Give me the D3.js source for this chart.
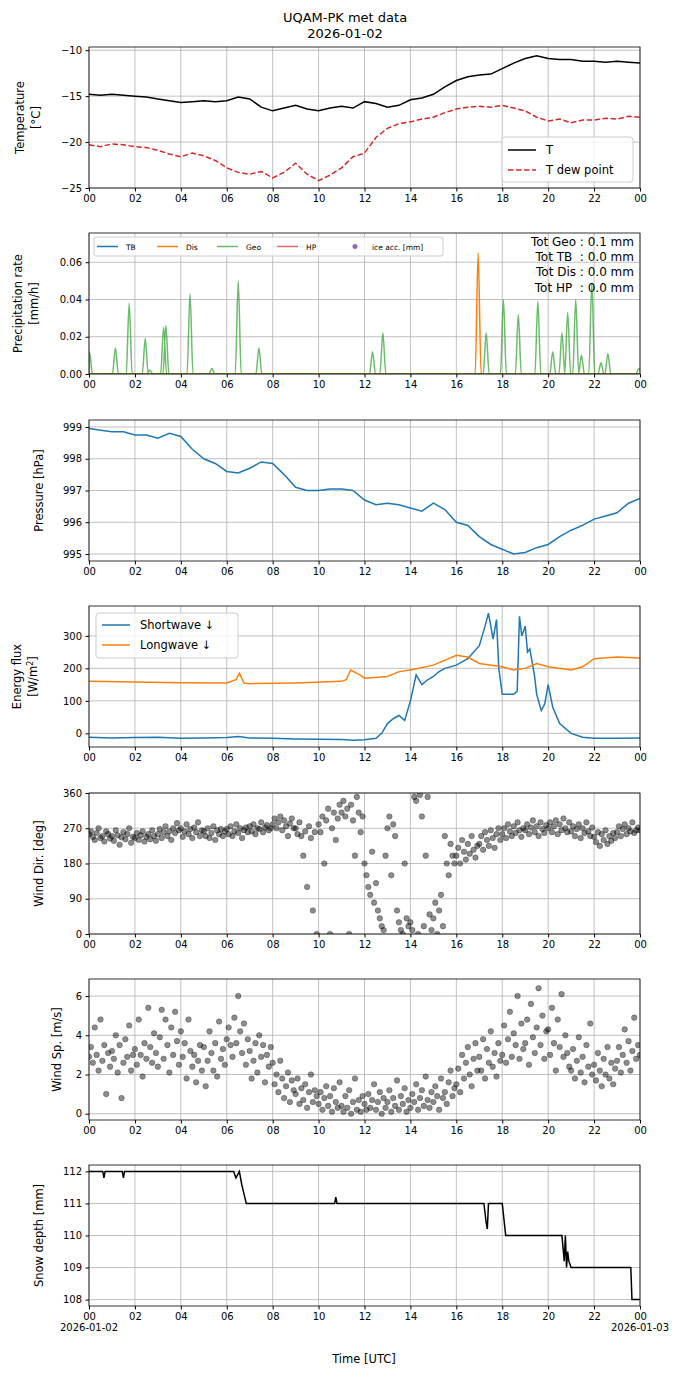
<!DOCTYPE html>
<html><head><meta charset="utf-8">
<script src="https://cdn.jsdelivr.net/npm/d3@7"></script>
<style>body{margin:0;background:#fff}text{font-family:"DejaVu Sans",sans-serif}</style>
</head><body><svg id="c" width="690" height="1377"></svg>
<script>
const tempTimes=d3.range(0,24.01,0.5);
const tempT=[-14.8,-14.9,-14.8,-14.9,-15.0,-15.1,-15.3,-15.5,-15.7,-15.6,-15.5,-15.6,-15.5,-15.1,-15.3,-16.2,-16.6,-16.3,-16.0,-16.4,-16.6,-16.3,-16.1,-16.3,-15.6,-15.8,-16.2,-16.0,-15.4,-15.2,-14.8,-14.0,-13.3,-12.9,-12.7,-12.6,-12.0,-11.4,-10.9,-10.6,-10.9,-11.0,-11.0,-11.2,-11.2,-11.3,-11.2,-11.3,-11.4];
const tempDew=[-20.3,-20.5,-20.2,-20.3,-20.5,-20.6,-20.9,-21.3,-21.6,-21.2,-21.5,-22.0,-22.8,-23.3,-23.5,-23.2,-23.9,-23.3,-22.3,-23.5,-24.2,-23.6,-22.8,-21.6,-21.2,-19.5,-18.5,-18.0,-17.8,-17.5,-17.3,-16.8,-16.4,-16.2,-16.1,-16.2,-16.0,-16.3,-16.6,-17.3,-17.7,-17.5,-17.9,-17.6,-17.6,-17.4,-17.5,-17.2,-17.3];
const geoTimes=[0.02,1.15,1.75,2.45,2.65,3.25,3.35,4.4,5.35,6.5,7.4,12.35,12.8,17.3,18.05,18.7,19.55,20.2,20.6,20.85,21.2,21.45,21.9,22.3,22.6,23.95];
const geoVals=[0.012,0.014,0.038,0.019,0.002,0.025,0.026,0.043,0.003,0.05,0.014,0.012,0.022,0.022,0.04,0.032,0.039,0.012,0.022,0.033,0.040,0.010,0.049,0.006,0.011,0.003];
const disTimes=[16.95];
const disVals=[0.065];
const totTexts=["Tot Geo : 0.1 mm","Tot TB  : 0.0 mm","Tot Dis : 0.0 mm","Tot HP  : 0.0 mm"];
const presTimes=d3.range(0,24.01,0.5);
const pres=[998.95,998.9,998.85,998.85,998.75,998.75,998.65,998.8,998.7,998.3,998.0,997.85,997.6,997.55,997.7,997.9,997.85,997.5,997.1,997.0,997.0,997.05,997.05,997.0,996.7,996.55,996.6,996.55,996.45,996.35,996.6,996.4,996.0,995.9,995.55,995.3,995.15,995.0,995.05,995.2,995.3,995.55,995.75,995.9,996.1,996.2,996.3,996.6,996.75];
const swTimes=[0,1,2,3,4,5,6,6.5,7,8,9,10,11,11.5,12,12.5,12.75,13,13.25,13.5,13.75,14,14.25,14.5,14.75,15,15.25,15.5,16,16.5,17,17.25,17.4,17.6,17.75,17.85,18,18.5,18.65,18.75,18.85,19,19.1,19.2,19.4,19.5,19.7,19.85,20,20.2,20.5,21,21.5,22,23,24];
const swVals=[-12,-14,-13,-12,-15,-14,-13,-10,-14,-15,-17,-18,-19,-21,-20,-15,0,30,45,55,40,100,180,150,165,175,190,200,210,230,270,330,370,290,350,200,120,120,130,360,300,330,250,260,180,120,70,90,150,80,30,0,-12,-15,-15,-14];
const lwTimes=[0,2,4,6,6.4,6.55,6.75,7,9,11,11.2,11.4,11.8,12,13,13.5,14,15,16,16.5,17,18,18.5,19,19.5,20,21,21.5,22,23,24];
const lwVals=[160,158,156,155,165,185,155,153,155,160,165,195,180,170,175,190,195,210,240,235,215,205,195,200,215,205,195,205,230,235,232];
const windDir=[255,262,248,240,258,270,245,250,236,262,255,244,250,238,265,252,228,247,260,242,255,270,233,248,245,258,240,252,262,236,248,255,242,265,250,238,255,268,245,260,275,250,262,240,270,258,283,265,270,248,262,280,255,268,245,272,260,285,250,265,262,250,270,245,258,275,240,265,255,268,250,262,268,255,275,250,262,280,258,270,245,265,272,260,275,262,280,255,270,268,285,260,272,278,265,270,280,295,270,285,300,265,290,275,250,282,295,270,270,255,285,250,200,262,120,275,245,60,260,0,280,260,300,180,290,320,0,270,310,240,295,330,310,340,300,320,0,330,290,200,350,310,260,300,180,150,120,100,210,80,130,60,40,20,10,200,270,300,150,280,250,60,30,10,0,180,40,20,30,10,350,340,0,355,300,20,200,350,50,10,40,80,0,60,100,20,250,180,150,230,200,180,200,220,180,240,210,190,230,205,250,215,195,225,230,250,215,260,240,225,265,245,220,255,270,240,255,270,245,280,262,250,275,258,285,265,248,270,265,280,255,272,290,260,275,250,285,268,258,278,270,285,260,275,290,255,280,265,295,270,260,285,262,275,250,268,280,245,270,258,285,262,250,272,248,235,260,225,255,240,265,230,250,238,258,245,260,275,250,268,280,255,270,262,285,258,265,272,265];
const windSp=[2.9,3.4,2.6,4.4,3.0,2.2,4.8,2.7,3.5,1.0,3.1,2.4,3.2,2.8,4.0,2.1,3.5,0.8,2.6,3.8,2.9,4.5,2.2,3.0,3.3,2.5,4.8,3.0,1.9,3.6,2.8,5.4,3.4,2.6,4.1,3.1,2.4,3.9,5.3,2.8,4.8,3.5,2.1,4.4,3.0,5.2,3.7,2.5,4.2,2.9,3.6,1.8,4.8,3.2,2.4,3.0,1.6,2.7,3.5,2.2,3.4,1.4,2.7,4.2,3.1,2.2,3.6,1.9,4.7,2.8,3.3,2.5,3.8,4.4,3.5,2.9,4.9,3.6,6.0,4.2,3.1,4.6,2.5,3.8,3.2,1.8,2.7,3.6,2.1,4.0,2.9,3.5,1.6,3.0,2.4,3.4,2.6,1.5,2.0,1.1,2.7,1.8,0.8,1.4,2.1,0.6,1.7,1.2,1.0,1.8,0.5,1.3,0.7,1.5,0.3,1.1,2.0,0.6,1.2,0.9,0.5,1.1,0.2,0.8,1.4,0.4,0.9,0.1,1.3,0.6,0.3,1.6,0.4,0.1,0.9,0.3,1.2,0.0,0.6,1.8,0.2,0.7,0.1,0.9,0.5,0.2,1.0,0.3,0.7,1.5,0.2,0.6,1.1,0.0,0.8,0.3,0.6,1.2,0.1,0.8,0.4,1.7,0.2,0.9,0.5,1.3,0.1,0.7,0.3,1.0,0.6,1.5,0.2,0.8,1.2,0.4,1.9,0.7,0.3,1.1,0.6,1.4,0.9,0.2,1.8,0.8,1.1,0.5,1.6,2.2,0.9,1.3,1.5,2.3,1.1,3.0,1.8,2.6,3.4,2.0,1.4,2.8,3.6,2.2,2.9,2.2,3.8,1.8,3.3,2.6,4.2,2.4,3.1,1.9,3.6,2.7,3.0,4.5,2.6,3.8,5.2,2.9,4.1,3.5,6.0,2.8,4.6,3.3,3.6,4.8,2.5,5.6,3.9,3.1,4.4,6.4,3.5,5.0,2.8,4.2,4.3,3.0,5.4,3.6,2.2,4.8,3.4,6.1,2.9,4.0,3.1,2.4,2.2,3.3,1.8,2.7,3.9,2.1,2.9,1.6,3.5,2.4,4.6,2.0,2.5,1.7,3.1,2.2,1.4,2.8,2.0,3.4,1.8,2.6,1.5,2.3,2.7,3.4,2.1,3.0,4.3,2.6,3.7,2.2,3.2,4.9,2.8,3.5,3.0];
const snowTimes=[0,0.6,0.65,0.7,1.45,1.5,1.55,6.3,6.4,6.55,6.65,6.75,6.85,10.7,10.75,10.8,17.2,17.3,17.35,17.4,18,18.15,20.6,20.7,20.75,20.8,20.85,20.9,21,23.6,23.65,24];
const snowVals=[112,112,111.8,112,112,111.8,112,112,111.8,112,111.6,111.3,111,111,111.2,111,111,110.4,110.2,111,111,110,110,109.2,110,109,109.5,109.2,109,109,108,108];
const xTickLabels=["00","02","04","06","08","10","12","14","16","18","20","22","00"];

const svg=d3.select("#c");
const L=89,R=640,H=141;
const x=d3.scaleLinear().domain([0,24]).range([L,R]);
const tops=[47,233,420,606,793,979,1165];
function panel(i,dom,ticks,fmt){
  const t=tops[i];const y=d3.scaleLinear().domain(dom).range([t+H,t]);
  const g=svg.append("g");
  g.selectAll(".gx").data(d3.range(0,25,2)).join("line").attr("x1",d=>x(d)).attr("x2",d=>x(d)).attr("y1",t).attr("y2",t+H).attr("stroke","#b0b0b0").attr("stroke-width",0.8);
  g.selectAll(".gy").data(ticks).join("line").attr("x1",L).attr("x2",R).attr("y1",d=>y(d)).attr("y2",d=>y(d)).attr("stroke","#b0b0b0").attr("stroke-width",0.8);
  const ya=g.append("g").attr("transform",`translate(${L},0)`).call(d3.axisLeft(y).tickValues(ticks).tickFormat(fmt).tickSize(3.5).tickPadding(3.5));
  const xa=g.append("g").attr("transform",`translate(0,${t+H})`).call(d3.axisBottom(x).tickValues(d3.range(0,25,2)).tickFormat((d,j)=>xTickLabels[j]).tickSize(3.5).tickPadding(3.5));
  [ya,xa].forEach(a=>{a.select(".domain").remove();a.selectAll("text").attr("font-size",10).attr("fill","#000").style("font-family","DejaVu Sans");a.selectAll("line").attr("stroke","#000");});
  const cp="cp"+i;
  svg.append("clipPath").attr("id",cp).append("rect").attr("x",L).attr("y",t).attr("width",R-L).attr("height",H);
  const plot=svg.append("g").attr("clip-path",`url(#${cp})`);
  const frame=()=>svg.append("rect").attr("x",L).attr("y",t).attr("width",R-L).attr("height",H).attr("fill","none").attr("stroke","#000").attr("stroke-width",0.8);
  return {y,plot,frame,t};
}
function ylabel(lines,xs,t){
  lines.forEach((s,k)=>svg.append("text").attr("transform",`translate(${xs[k]},${t+H/2}) rotate(-90)`).attr("text-anchor","middle").attr("font-size",11.5).text(s));
}
const line=(xs,ys,y)=>d3.line().x((d,i)=>x(xs[i])).y(d=>y(d))(ys);

svg.append("text").attr("x",345).attr("y",22).attr("text-anchor","middle").attr("font-size",13).text("UQAM-PK met data");
svg.append("text").attr("x",345).attr("y",38).attr("text-anchor","middle").attr("font-size",13).text("2026-01-02");

let p=panel(0,[-25,-9.65],[-25,-20,-15,-10],d=>d3.format("")(d).replace("-","−"));
p.plot.append("path").attr("d",line(tempTimes,tempT,p.y)).attr("fill","none").attr("stroke","#000").attr("stroke-width",1.5);
p.plot.append("path").attr("d",line(tempTimes,tempDew,p.y)).attr("fill","none").attr("stroke","#d62728").attr("stroke-width",1.5).attr("stroke-dasharray","5.5,2.5");
p.frame();ylabel(["Temperature","[°C]"],[24,40],p.t);
{const g=svg.append("g");g.append("rect").attr("x",502).attr("y",137).attr("width",131).attr("height",45).attr("rx",3).attr("fill","#fff").attr("fill-opacity",0.8).attr("stroke","#ccc");
 g.append("line").attr("x1",508).attr("x2",536).attr("y1",150).attr("y2",150).attr("stroke","#000").attr("stroke-width",1.5);
 g.append("line").attr("x1",508).attr("x2",536).attr("y1",170).attr("y2",170).attr("stroke","#d62728").attr("stroke-width",1.5).attr("stroke-dasharray","5.5,2.5");
 g.append("text").attr("x",546).attr("y",154).attr("font-size",11.5).text("T");
 g.append("text").attr("x",546).attr("y",174).attr("font-size",11.5).text("T dew point");}

p=panel(1,[0,0.0757],[0,0.02,0.04,0.06],d3.format(".2f"));
function spikeLine(ts,vs){const pts=[[0,0]];ts.forEach((tt,i)=>{pts.push([Math.max(0,tt-0.13),0],[tt,vs[i]],[tt+0.13,0]);});pts.push([24,0]);return pts;}
const py=p.y;
const sl=d3.line().x(d=>x(d[0])).y(d=>py(d[1])).curve(d3.curveMonotoneX);
p.plot.append("path").attr("d",sl([[0,0],[24,0]])).attr("stroke","#d62728").attr("stroke-width",1.5).attr("opacity",0.7).attr("fill","none");
p.plot.append("path").attr("d",sl([[0,0],[24,0]])).attr("stroke","#1f77b4").attr("stroke-width",1.5).attr("fill","none");
p.plot.append("path").attr("d",sl(spikeLine(disTimes,disVals))).attr("stroke","#ff7f0e").attr("stroke-width",1.5).attr("fill","none");
p.plot.append("path").attr("d",sl(spikeLine(geoTimes,geoVals))).attr("stroke","#2ca02c").attr("stroke-width",1.5).attr("opacity",0.7).attr("fill","none");
p.frame();ylabel(["Precipitation rate","[mm/h]"],[22,38],p.t);
{const g=svg.append("g");g.append("rect").attr("x",94).attr("y",237).attr("width",349).attr("height",19).attr("rx",2).attr("fill","#fff").attr("fill-opacity",0.8).attr("stroke","#ccc");
 const items=[["TB","#1f77b4",1],["Dis","#ff7f0e",1],["Geo","#2ca02c",0.7],["HP","#d62728",0.7]];
 items.forEach((it,k)=>{const x0=97+k*60;g.append("line").attr("x1",x0).attr("x2",x0+21).attr("y1",246.5).attr("y2",246.5).attr("stroke",it[1]).attr("stroke-width",1.5).attr("opacity",it[2]);
  g.append("text").attr("x",x0+29).attr("y",249.5).attr("font-size",7.5).text(it[0]);});
 g.append("circle").attr("cx",355).attr("cy",246.5).attr("r",2.5).attr("fill","#9467bd");
 g.append("text").attr("x",372).attr("y",249.5).attr("font-size",7.5).text("ice acc. [mm]");
 totTexts.forEach((s,k)=>g.append("text").attr("x",634).attr("y",246+k*15.2).attr("text-anchor","end").attr("font-size",12).style("white-space","pre").text(s));}

p=panel(2,[994.78,999.22],[995,996,997,998,999],d3.format("d"));
p.plot.append("path").attr("d",line(presTimes,pres,p.y)).attr("fill","none").attr("stroke","#1f77b4").attr("stroke-width",1.5);
p.frame();ylabel(["Pressure [hPa]"],[43],p.t);

p=panel(3,[-42,392],[0,100,200,300],d3.format("d"));
p.plot.append("path").attr("d",line(swTimes,swVals,p.y)).attr("fill","none").attr("stroke","#1f77b4").attr("stroke-width",1.5);
p.plot.append("path").attr("d",line(lwTimes,lwVals,p.y)).attr("fill","none").attr("stroke","#ff7f0e").attr("stroke-width",1.5);
p.frame();
svg.append("text").attr("transform",`translate(21,${p.t+H/2}) rotate(-90)`).attr("text-anchor","middle").attr("font-size",11.5).text("Energy flux");
svg.append("text").attr("transform",`translate(37,${p.t+H/2}) rotate(-90)`).attr("text-anchor","middle").attr("font-size",11.5).html('[W/m<tspan dy="-4" font-size="8">2</tspan><tspan dy="4">]</tspan>');
{const g=svg.append("g");g.append("rect").attr("x",96).attr("y",613).attr("width",142).attr("height",45).attr("rx",3).attr("fill","#fff").attr("fill-opacity",0.8).attr("stroke","#ccc");
 g.append("line").attr("x1",102).attr("x2",130).attr("y1",625).attr("y2",625).attr("stroke","#1f77b4").attr("stroke-width",1.5);
 g.append("line").attr("x1",102).attr("x2",130).attr("y1",645).attr("y2",645).attr("stroke","#ff7f0e").attr("stroke-width",1.5);
 g.append("text").attr("x",140).attr("y",629).attr("font-size",11.5).text("Shortwave ↓");
 g.append("text").attr("x",140).attr("y",649).attr("font-size",11.5).text("Longwave ↓");}

const windTimes=d3.range(windDir.length).map(i=>i/12);
p=panel(4,[0,360],[0,90,180,270,360],d3.format("d"));
p.plot.selectAll("circle").data(windDir).join("circle").attr("cx",(d,i)=>x(windTimes[i])).attr("cy",d=>p.y(d)).attr("r",2.8).attr("fill","#000").attr("fill-opacity",0.45).attr("stroke","#000").attr("stroke-opacity",0.45).attr("stroke-width",0.6);
p.frame();ylabel(["Wind Dir. [deg]"],[43],p.t);

p=panel(5,[-0.32,6.87],[0,2,4,6],d3.format("d"));
p.plot.selectAll("circle").data(windSp).join("circle").attr("cx",(d,i)=>x(windTimes[i])).attr("cy",d=>p.y(d)).attr("r",2.8).attr("fill","#000").attr("fill-opacity",0.45).attr("stroke","#000").attr("stroke-opacity",0.45).attr("stroke-width",0.6);
p.frame();ylabel(["Wind Sp. [m/s]"],[61],p.t);

p=panel(6,[107.8,112.2],[108,109,110,111,112],d3.format("d"));
p.plot.append("path").attr("d",line(snowTimes,snowVals,p.y)).attr("fill","none").attr("stroke","#000").attr("stroke-width",1.5);
p.frame();ylabel(["Snow depth [mm]"],[43],p.t);
svg.append("text").attr("x",x(0)).attr("y",1331).attr("text-anchor","middle").attr("font-size",10).text("2026-01-02");
svg.append("text").attr("x",x(24)).attr("y",1331).attr("text-anchor","middle").attr("font-size",10).text("2026-01-03");
svg.append("text").attr("x",364).attr("y",1363).attr("text-anchor","middle").attr("font-size",11.5).text("Time [UTC]");
</script></body></html>
